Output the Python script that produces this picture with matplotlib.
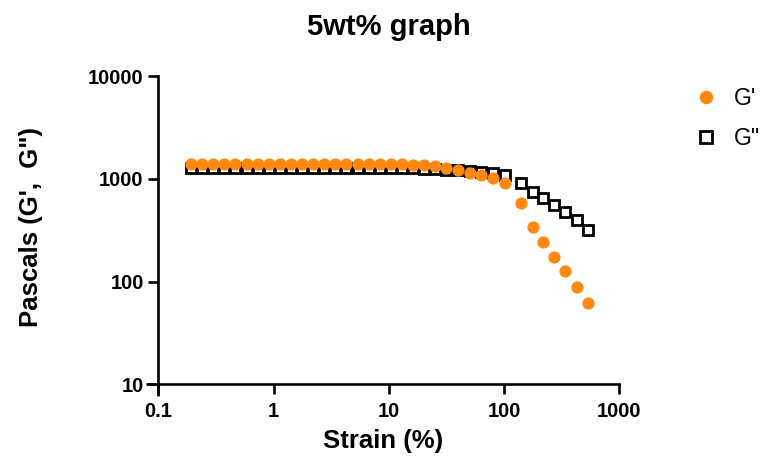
#!/usr/bin/env python3
"""5wt% strain sweep: G' and G'' against strain, log-log."""

import matplotlib
matplotlib.use("Agg")
import matplotlib.pyplot as plt
from matplotlib.ticker import NullLocator

plt.rcParams["font.family"] = ["Liberation Sans", "DejaVu Sans"]

# strain (%)
strain = [0.1925, 0.240, 0.300, 0.374, 0.467, 0.583, 0.728, 0.909, 1.134, 1.416,
          1.767, 2.206, 2.754, 3.438, 4.291, 5.356, 6.686, 8.345, 10.42, 13.00,
          16.23, 20.25, 25.28, 31.55, 39.8, 50.3, 63.6, 80.2, 102.8, 139.7,
          178.7, 215.8, 272.2, 339.2, 426.3, 537.6]
g_storage = [1400, 1400, 1400, 1400, 1400, 1400, 1400, 1400, 1400, 1400,
             1400, 1400, 1400, 1400, 1400, 1400, 1400, 1400, 1395, 1390,
             1375, 1355, 1320, 1265, 1205, 1150, 1090, 1010, 900, 578,
             337, 241, 172, 127.6, 89.2, 62.3]
g_loss = [1280, 1280, 1280, 1280, 1280, 1280, 1280, 1280, 1280, 1280,
          1280, 1280, 1280, 1280, 1280, 1280, 1280, 1280, 1278, 1275,
          1268, 1258, 1245, 1230, 1212, 1192, 1172, 1131, 1089, 904,
          749, 646, 556, 470, 393, 318]

x_ticks = [0.1, 1, 10, 100, 1000]
x_tick_labels = ["0.1", "1", "10", "100", "1000"]
y_ticks = [10, 100, 1000, 10000]
y_tick_labels = ["10", "100", "1000", "10000"]

W, H = 772, 467
fig = plt.figure(figsize=(W / 100, H / 100), dpi=100)
left, right, top, bottom = 158.3, 619.3, 76.0, 384.3
ax = fig.add_axes([left / W, 1 - bottom / H, (right - left) / W, (bottom - top) / H])

ax.plot(strain, g_loss, linestyle="none", marker="s", markersize=7.8,
        markerfacecolor="white", markeredgecolor="black", markeredgewidth=2.0,
        label="G\"", zorder=3)
ax.plot(strain, g_storage, linestyle="none", marker="o", markersize=8.8,
        markerfacecolor="#FF8810", markeredgecolor="none", label="G'", zorder=4)

ax.set_xscale("log")
ax.set_yscale("log")
ax.set_xlim(0.1, 1000)
ax.set_ylim(10, 10000)
ax.set_xticks(x_ticks, labels=x_tick_labels)
ax.set_yticks(y_ticks, labels=y_tick_labels)
ax.xaxis.set_minor_locator(NullLocator())
ax.yaxis.set_minor_locator(NullLocator())

for side in ("top", "right"):
    ax.spines[side].set_visible(False)
for side in ("left", "bottom"):
    ax.spines[side].set_linewidth(1.9)
ax.tick_params(axis="both", length=7.5, width=1.9, labelsize=14.5, pad=3)
ax.tick_params(axis="x", pad=5)
for label in ax.get_xticklabels() + ax.get_yticklabels():
    label.set_fontweight("bold")

# prism-style overhang where the two axes cross
over_x = 12 / (right - left)
over_y = 12 / (bottom - top)
ax.plot([-over_x, 0], [0, 0], transform=ax.transAxes, color="black", lw=1.9,
        clip_on=False, solid_capstyle="butt")
ax.plot([0, 0], [-over_y, 0], transform=ax.transAxes, color="black", lw=1.9,
        clip_on=False, solid_capstyle="butt")

fig.text((left + right) / 2 / W, 1 - 27 / H, "5wt% graph", ha="center", va="center",
         fontsize=21, fontweight="bold")
fig.text(383 / W, 1 - 441 / H, "Strain (%)", ha="center", va="center",
         fontsize=18.5, fontweight="bold")
fig.text(31 / W, 1 - 227 / H, "Pascals (G',  G\")", ha="center", va="center",
         rotation=90, fontsize=18.5, fontweight="bold")

handles, labels = ax.get_legend_handles_labels()
fig.legend(handles[::-1], labels[::-1], loc="upper left",
           bbox_to_anchor=(674 / W, 1 - 66 / H), frameon=False, fontsize=16.5,
           handletextpad=0.7, labelspacing=0.75, handlelength=1.0, markerscale=1.1)

fig.savefig("out.png", dpi=100)
